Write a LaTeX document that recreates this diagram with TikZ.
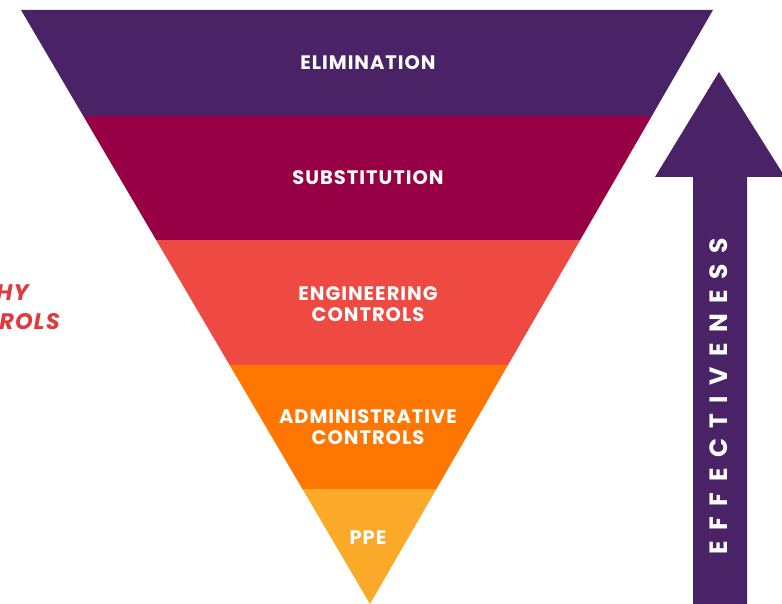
\documentclass[tikz,border=0pt]{standalone}
\usepackage{fontspec}
\setmainfont{Poppins}[BoldFont=* Bold]
\newfontfamily\lblfont{Poppins}[BoldFont=* Bold, LetterSpace=5]
\newfontfamily\arrfont{Poppins}[BoldFont=* Bold, LetterSpace=42]
\newfontfamily\sidefont{Poppins}[BoldFont=* Bold, LetterSpace=5]
\usetikzlibrary{calc}
\definecolor{cPurple}{HTML}{4A2366}
\definecolor{cMaroon}{HTML}{970044}
\definecolor{cRed}{HTML}{EF4A42}
\definecolor{cOrange}{HTML}{FF7700}
\definecolor{cYellow}{HTML}{FBA928}
\definecolor{cTitle}{HTML}{E03A3E}
\tikzset{
  lbl/.style={text=white, font=\lblfont\bfseries\fontsize{19.5}{21.5}\selectfont, align=center},
  side/.style={text=cTitle, font=\sidefont\bfseries\itshape\fontsize{22.5}{29}\selectfont, align=left}
}
\begin{document}
\begin{tikzpicture}[x=1pt,y=-1pt]
\useasboundingbox (0,0) rectangle (782,604);
\coordinate (TL) at (21,10);
\coordinate (TR) at (713,10);
\coordinate (A) at (370,604);
\foreach \n/\t in {1/0.17845,2/0.38721,3/0.59764,4/0.80640}{
  \coordinate (L\n) at ($(TL)!\t!(A)$);
  \coordinate (R\n) at ($(TR)!\t!(A)$);
}
\fill[cPurple] (TL) -- (TR) -- (R1) -- (L1) -- cycle;
\fill[cMaroon] (L1) -- (R1) -- (R2) -- (L2) -- cycle;
\fill[cRed] (L2) -- (R2) -- (R3) -- (L3) -- cycle;
\fill[cOrange] (L3) -- (R3) -- (R4) -- (L4) -- cycle;
\fill[cYellow] (L4) -- (R4) -- (A) -- cycle;
\node[lbl] (elim) at (368,63) {ELIMINATION};
\node[lbl] (subs) at (368,178) {SUBSTITUTION};
\node[lbl] (eng) at (368,304) {ENGINEERING\\CONTROLS};
\node[lbl] (adm) at (368,427) {ADMINISTRATIVE\\CONTROLS};
\node[lbl] (ppe) at (368,538) {PPE};
\fill[cPurple] (719,72) -- (785,177) -- (747,177) -- (747,604) -- (693,604) -- (693,177) -- (655,177) -- cycle;
\node[rotate=90, text=white, font=\arrfont\bfseries\fontsize{25}{27}\selectfont] (eff) at (719,396) {EFFECTIVENESS};
\node[side, anchor=east, inner sep=0pt] (t1) at (29,293) {HY};
\node[side, anchor=east, inner sep=0pt] (t2) at (60,322) {ROLS};
\end{tikzpicture}
\end{document}
